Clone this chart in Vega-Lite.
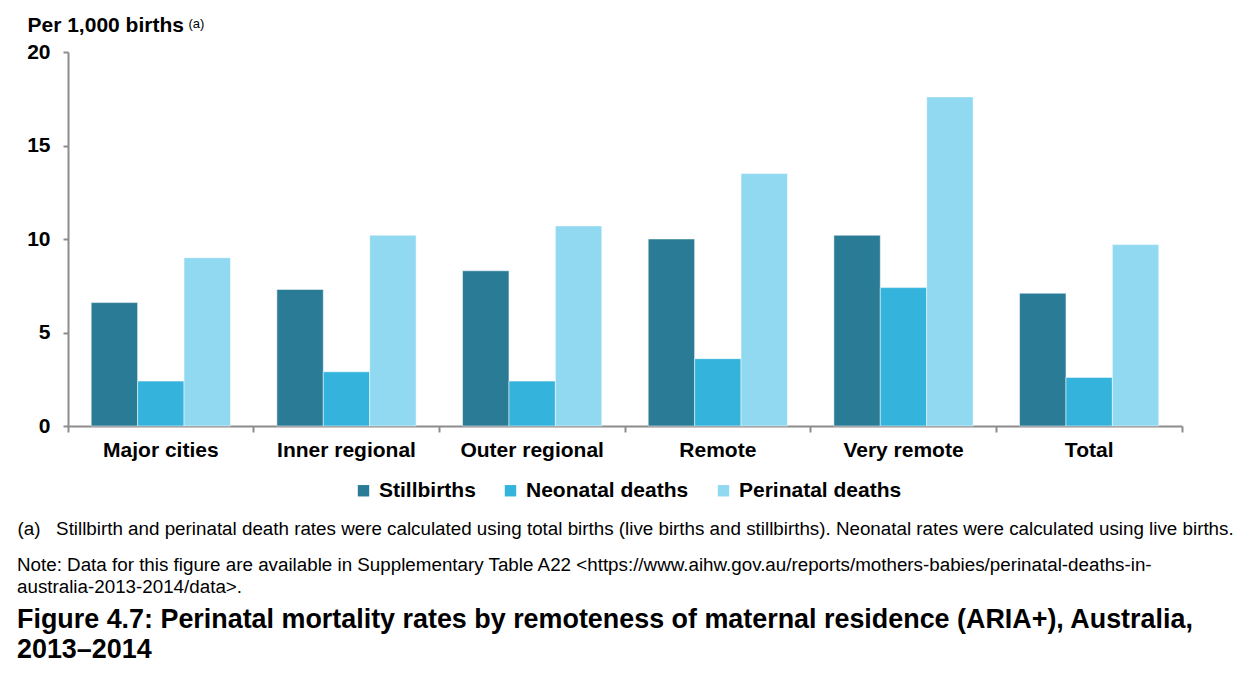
{
  "$schema": "https://vega.github.io/schema/vega-lite/v6.json",
  "width": 1114,
  "height": 374,
  "autosize": {"type": "none"},
  "padding": {"left": 68, "top": 52, "right": 60, "bottom": 247},
  "background": "white",
  "config": {"view": {"stroke": null}, "font": "Liberation Sans"},
  "data": {
    "values": [
      {"region": "Major cities", "measure": "Stillbirths", "value": 6.6},
      {"region": "Major cities", "measure": "Neonatal deaths", "value": 2.4},
      {"region": "Major cities", "measure": "Perinatal deaths", "value": 9.0},
      {"region": "Inner regional", "measure": "Stillbirths", "value": 7.3},
      {"region": "Inner regional", "measure": "Neonatal deaths", "value": 2.9},
      {"region": "Inner regional", "measure": "Perinatal deaths", "value": 10.2},
      {"region": "Outer regional", "measure": "Stillbirths", "value": 8.3},
      {"region": "Outer regional", "measure": "Neonatal deaths", "value": 2.4},
      {"region": "Outer regional", "measure": "Perinatal deaths", "value": 10.7},
      {"region": "Remote", "measure": "Stillbirths", "value": 10.0},
      {"region": "Remote", "measure": "Neonatal deaths", "value": 3.6},
      {"region": "Remote", "measure": "Perinatal deaths", "value": 13.5},
      {"region": "Very remote", "measure": "Stillbirths", "value": 10.2},
      {"region": "Very remote", "measure": "Neonatal deaths", "value": 7.4},
      {"region": "Very remote", "measure": "Perinatal deaths", "value": 17.6},
      {"region": "Total", "measure": "Stillbirths", "value": 7.1},
      {"region": "Total", "measure": "Neonatal deaths", "value": 2.6},
      {"region": "Total", "measure": "Perinatal deaths", "value": 9.7}
    ]
  },
  "title": {
    "text": [
      "Note: Data for this figure are available in Supplementary Table A22 <https://www.aihw.gov.au/reports/mothers-babies/perinatal-deaths-in-",
      "australia-2013-2014/data>."
    ],
    "subtitle": [
      "Figure 4.7: Perinatal mortality rates by remoteness of maternal residence (ARIA+), Australia,",
      "2013–2014"
    ],
    "orient": "bottom",
    "anchor": "start",
    "frame": "group",
    "offset": 18,
    "dx": -51,
    "font": "Liberation Sans",
    "fontSize": 18.8,
    "fontWeight": "normal",
    "lineHeight": 22,
    "color": "black",
    "subtitleFont": "Liberation Sans",
    "subtitleFontSize": 26.9,
    "subtitleFontWeight": "bold",
    "subtitleLineHeight": 30,
    "subtitleColor": "black",
    "subtitlePadding": 10
  },
  "encoding": {
    "x": {
      "field": "region",
      "type": "nominal",
      "sort": ["Major cities", "Inner regional", "Outer regional", "Remote", "Very remote", "Total"],
      "scale": {"paddingInner": 0, "paddingOuter": 0},
      "axis": {
        "title": "(a)\u00a0\u00a0\u00a0Stillbirth and perinatal death rates were calculated using total births (live births and stillbirths). Neonatal rates were calculated using live births.",
        "titleX": -51,
        "titleY": 102,
        "titleAlign": "left",
        "titleBaseline": "middle",
        "titleFont": "Liberation Sans",
        "titleFontSize": 18.8,
        "titleFontWeight": "normal",
        "titleColor": "black",
        "titleLimit": 1300,
        "labelAngle": 0,
        "bandPosition": 1,
        "tickExtra": true,
        "tickSize": 6,
        "tickColor": "#8c8c8c",
        "tickWidth": 2,
        "domainColor": "#8c8c8c",
        "domainWidth": 2,
        "labelFont": "Liberation Sans",
        "labelFontSize": 21,
        "labelFontWeight": "bold",
        "labelColor": "black",
        "labelPadding": 7,
        "labelOverlap": false
      }
    },
    "xOffset": {
      "field": "measure",
      "type": "nominal",
      "sort": ["Stillbirths", "Neonatal deaths", "Perinatal deaths"],
      "scale": {"paddingInner": 0, "paddingOuter": 0.5}
    }
  },
  "layer": [
    {
      "mark": {"type": "bar", "stroke": "white", "strokeWidth": 0.5},
      "encoding": {
        "y": {
          "field": "value",
          "type": "quantitative",
          "scale": {"domain": [0, 20], "nice": false},
          "axis": {
            "values": [0, 5, 10, 15, 20],
            "title": "Per 1,000 births",
            "titleAngle": 0,
            "titleAlign": "left",
            "titleBaseline": "alphabetic",
            "titleX": -41,
            "titleY": -21,
            "titleFont": "Liberation Sans",
            "titleFontSize": 21,
            "titleFontWeight": "bold",
            "titleColor": "black",
            "labelFont": "Liberation Sans",
            "labelFontSize": 21,
            "labelFontWeight": "bold",
            "labelColor": "black",
            "domainColor": "#8c8c8c",
            "domainWidth": 2,
            "tickColor": "#8c8c8c",
            "tickWidth": 2,
            "tickSize": 5,
            "labelPadding": 13,
            "grid": false
          }
        },
        "color": {
          "field": "measure",
          "type": "nominal",
          "scale": {
            "domain": ["Stillbirths", "Neonatal deaths", "Perinatal deaths"],
            "range": ["#2a7b95", "#34b4dd", "#91d9f1"]
          },
          "legend": {
            "title": null,
            "orient": "none",
            "direction": "horizontal",
            "legendX": 285,
            "legendY": 428,
            "symbolType": "square",
            "symbolSize": 130,
            "symbolStrokeWidth": 0,
            "labelFont": "Liberation Sans",
            "labelFontSize": 21,
            "labelFontWeight": "bold",
            "labelColor": "black",
            "labelLimit": 400,
            "labelOffset": 5,
            "columnPadding": 24
          }
        }
      }
    },
    {
      "mark": {"type": "bar", "opacity": 0},
      "encoding": {
        "y": {
          "field": "value",
          "type": "quantitative",
          "axis": {
            "orient": "left",
            "title": "(a)",
            "titleAngle": 0,
            "titleAlign": "left",
            "titleBaseline": "alphabetic",
            "titleX": 120,
            "titleY": -25,
            "titleFont": "Liberation Sans",
            "titleFontSize": 13,
            "titleFontWeight": "normal",
            "titleColor": "black",
            "labels": false,
            "ticks": false,
            "domain": false,
            "grid": false
          }
        }
      }
    }
  ],
  "resolve": {"axis": {"y": "independent"}}
}
